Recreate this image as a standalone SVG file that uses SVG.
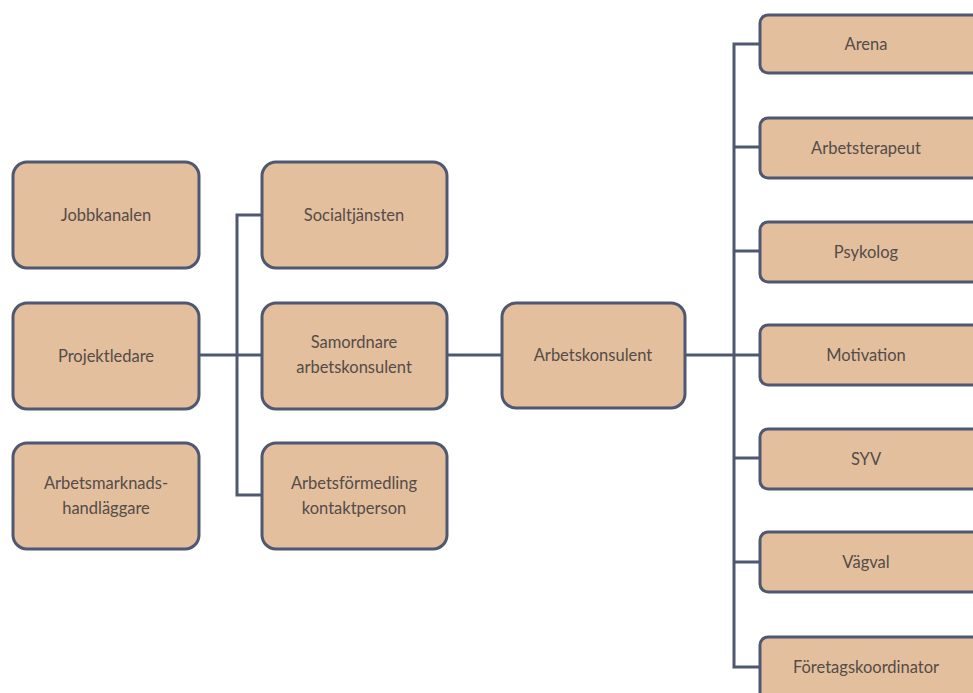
<svg xmlns="http://www.w3.org/2000/svg" width="973" height="693" viewBox="0 0 973 693">
<style>
.box{fill:#e3bf9e;stroke:#4e5870;stroke-width:3}
.t{font-family:"Lato","Liberation Sans",sans-serif;font-size:16.5px;fill:#544c48;text-anchor:middle;dominant-baseline:central}
.ln{fill:none;stroke:#4e5870;stroke-width:3}
</style>
<rect width="973" height="693" fill="#ffffff"/>
<g id="connectors">
<path class="ln" d="M199,355 H262"/>
<path class="ln" d="M262,215 H237 V495 H262"/>
<path class="ln" d="M447,355 H502"/>
<path class="ln" d="M685,355 H760"/>
<path class="ln" d="M760,44 H734 V667 H760"/>
<path class="ln" d="M734,147 H760 M734,251 H760 M734,458 H760 M734,562 H760"/>
</g>
<g id="jobbkanalen"><rect class="box" x="13" y="162" width="186" height="106" rx="14"/><text class="t" x="106" y="215">Jobbkanalen</text></g>
<g id="projektledare"><rect class="box" x="13" y="303" width="186" height="106" rx="14"/><text class="t" x="106" y="356">Projektledare</text></g>
<g id="arbetsmarknadshandlaggare"><rect class="box" x="13" y="443" width="186" height="106" rx="14"/><text class="t" x="106" y="483">Arbetsmarknads-</text><text class="t" x="106" y="508">handläggare</text></g>
<g id="socialtjansten"><rect class="box" x="262" y="162" width="185" height="106" rx="14"/><text class="t" x="354" y="215">Socialtjänsten</text></g>
<g id="samordnare"><rect class="box" x="262" y="303" width="185" height="106" rx="14"/><text class="t" x="354" y="342">Samordnare</text><text class="t" x="354" y="367">arbetskonsulent</text></g>
<g id="arbetsformedling"><rect class="box" x="262" y="443" width="185" height="106" rx="14"/><text class="t" x="354" y="483">Arbetsförmedling</text><text class="t" x="354" y="508">kontaktperson</text></g>
<g id="arbetskonsulent"><rect class="box" x="502" y="303" width="183" height="105" rx="14"/><text class="t" x="593" y="355">Arbetskonsulent</text></g>
<g id="arena"><rect class="box" x="760" y="15" width="220" height="58" rx="8"/><text class="t" x="866" y="44">Arena</text></g>
<g id="arbetsterapeut"><rect class="box" x="760" y="118" width="220" height="60" rx="8"/><text class="t" x="866" y="148">Arbetsterapeut</text></g>
<g id="psykolog"><rect class="box" x="760" y="222" width="220" height="60" rx="8"/><text class="t" x="866" y="252">Psykolog</text></g>
<g id="motivation"><rect class="box" x="760" y="325" width="220" height="60" rx="8"/><text class="t" x="866" y="355">Motivation</text></g>
<g id="syv"><rect class="box" x="760" y="429" width="220" height="60" rx="8"/><text class="t" x="866" y="459">SYV</text></g>
<g id="vagval"><rect class="box" x="760" y="532" width="220" height="60" rx="8"/><text class="t" x="866" y="562">Vägval</text></g>
<g id="foretagskoordinator"><rect class="box" x="760" y="637" width="220" height="70" rx="8"/><text class="t" x="866" y="667">Företagskoordinator</text></g>
</svg>
